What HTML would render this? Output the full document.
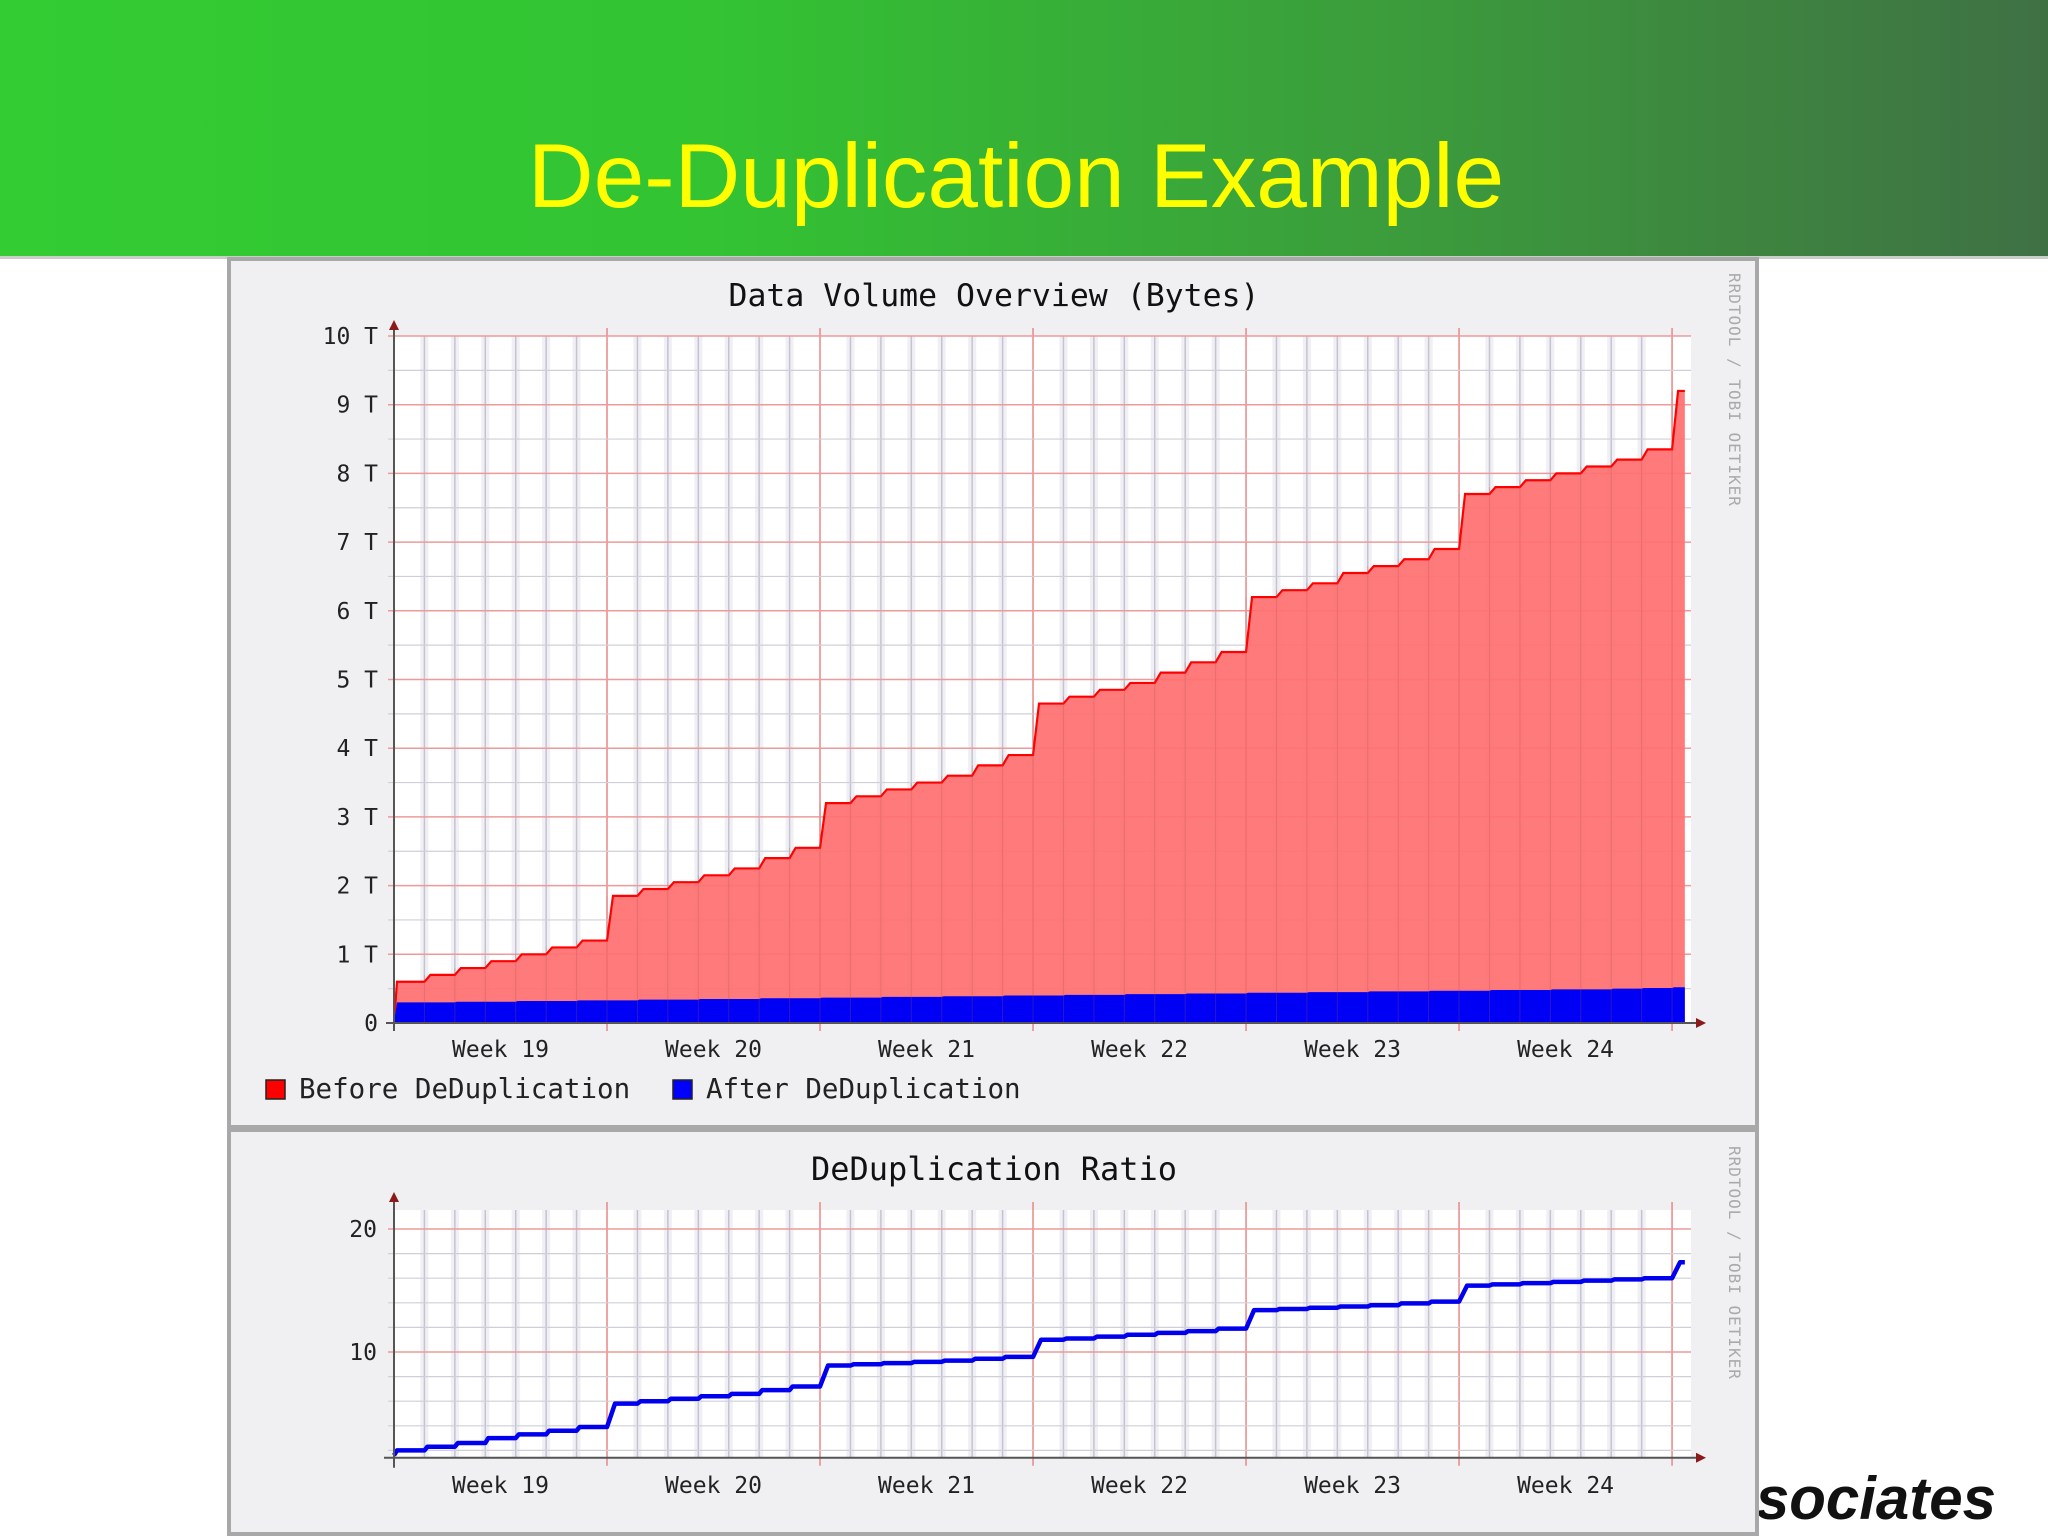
<!DOCTYPE html>
<html><head><meta charset="utf-8"><style>
html,body{margin:0;padding:0;width:2048px;height:1536px;overflow:hidden;background:#fff;font-family:"Liberation Sans",sans-serif}
svg{display:block}
</style></head><body>
<svg id="s" width="2048" height="1536" viewBox="0 0 2048 1536" xmlns="http://www.w3.org/2000/svg">
<defs>
<linearGradient id="hg" x1="0" x2="1" y1="0" y2="0">
<stop offset="0" stop-color="#33cc33"/><stop offset="0.35" stop-color="#33c333"/><stop offset="0.7" stop-color="#3c9a3c"/><stop offset="1" stop-color="#3f7044"/>
</linearGradient>
</defs>
<rect x="0" y="0" width="2048" height="257" fill="url(#hg)"/>
<rect x="0" y="256" width="2048" height="3" fill="#c8cfc8"/>
<text x="1016" y="207" text-anchor="middle" font-size="91" fill="#ffff00" font-family="Liberation Sans, sans-serif">De-Duplication Example</text>
<text x="1996" y="1519" text-anchor="end" font-size="60" font-weight="bold" font-style="italic" fill="#111" font-family="Liberation Sans, sans-serif">Associates</text>
<g id="p1">
<rect x="229" y="259" width="1528" height="868" fill="#f0eff2" stroke="#a8a8a8" stroke-width="4"/>
</g>
<g id="p2">
<rect x="229" y="1130" width="1528" height="404" fill="#f0eff2" stroke="#a8a8a8" stroke-width="4"/>
</g>
</svg>
<script>
// ---- data ----
const weekLabels = ["Week 19","Week 20","Week 21","Week 22","Week 23","Week 24"];
const volumeTicks = ["0","1 T","2 T","3 T","4 T","5 T","6 T","7 T","8 T","9 T","10 T"];
const ratioTicks = ["10","20"];
// daily values (TB), 7 per week, + final point
const beforeDedup = [0.6,0.7,0.8,0.9,1.0,1.1,1.2,
 1.85,1.95,2.05,2.15,2.25,2.4,2.55,
 3.2,3.3,3.4,3.5,3.6,3.75,3.9,
 4.65,4.75,4.85,4.95,5.1,5.25,5.4,
 6.2,6.3,6.4,6.55,6.65,6.75,6.9,
 7.7,7.8,7.9,8.0,8.1,8.2,8.35,
 9.2];
const afterDedup = [0.3,0.3,0.31,0.31,0.32,0.32,0.33,
 0.33,0.34,0.34,0.35,0.35,0.36,0.36,
 0.37,0.37,0.38,0.38,0.39,0.39,0.4,
 0.4,0.41,0.41,0.42,0.42,0.43,0.43,
 0.44,0.44,0.45,0.45,0.46,0.46,0.47,
 0.47,0.48,0.48,0.49,0.49,0.5,0.51,
 0.52];
const dedupRatio = [2.0,2.3,2.6,3.0,3.3,3.6,3.9,
 5.8,6.0,6.2,6.4,6.6,6.9,7.2,
 8.9,9.0,9.1,9.2,9.3,9.45,9.6,
 11.0,11.1,11.25,11.4,11.55,11.7,11.9,
 13.4,13.5,13.6,13.7,13.8,13.95,14.1,
 15.4,15.5,15.6,15.7,15.8,15.9,16.0,
 17.3];

const NS="http://www.w3.org/2000/svg";
const svg=document.getElementById('s');
function el(parent,tag,attrs){const e=document.createElementNS(NS,tag);for(const k in attrs)e.setAttribute(k,attrs[k]);parent.appendChild(e);return e;}
const X0=394, DAYW=30.43;
const xDay=d=>X0+d*DAYW;
const lastW=0.42;
const xEnd=xDay(42+lastW);
const gridRight=1691;
const MONO='DejaVu Sans Mono, Liberation Mono, monospace';

function vgrid(g,top,bottom){
  for(let d=1;d<=42;d++){
    const x=xDay(d);
    if(d%7===0) continue;
    const b=el(g,'rect',{x:x-4,y:top,width:8,height:bottom-top,fill:'#e4e4ee',opacity:0.6});
    
    
    const l=el(g,'line',{x1:x,x2:x,y1:top,y2:bottom,stroke:'#c4c4cc','stroke-width':1.5});
    
    
  }
  for(let w=1;w<=6;w++){
    const x=xDay(w*7);
    const l=el(g,'line',{x1:x,x2:x,y1:top-8,y2:bottom+8,stroke:'#e88888','stroke-width':1.5});
    
    
  }
}
function weekText(g,y){
  weekLabels.forEach((t,i)=>{
    const tx=el(g,'text',{x:xDay(i*7+3.5),y:y,'text-anchor':'middle','font-size':23,'font-family':MONO,fill:'#222'});
    tx.textContent=t;
    
    
  });
}
function stepPath(vals,yf,ramp){
  let d='M'+xDay(0)+','+yf(0)+' L'+(xDay(0)+3)+','+yf(vals[0]);
  for(let i=0;i<vals.length;i++){
    const xs=xDay(i)+(i===0?3:ramp), xe=(i===vals.length-1)?xEnd:xDay(i+1);
    if(i>0) d+=' L'+xs+','+yf(vals[i]);
    d+=' L'+xe+','+yf(vals[i]);
  }
  return d;
}
function vertText(g,x,y){
  const t=el(g,'text',{x:x,y:y,transform:`rotate(90 ${x} ${y})`,'font-size':16,fill:'#aaa','font-family':MONO,'letter-spacing':'1'});
  t.textContent='RRDTOOL / TOBI OETIKER';
  
  
}

// ---- Panel 1 ----
(function(){
  const g=document.getElementById('p1');
  const Y0=1023, TB=68.7, top=1023-10*TB;
  const y=v=>Y0-v*TB;
  el(g,'rect',{x:X0,y:top,width:gridRight-X0,height:Y0-top,fill:'#ffffff'});
  vgrid(g,top,Y0);
  for(let i=0;i<=20;i++){
    const v=i*0.5, yy=y(v), major=i%2===0;
    const l=el(g,'line',{x1:X0-6,x2:gridRight,y1:yy,y2:yy,stroke:major?'#ee9a9a':'#cfcfd8','stroke-width':major?1.5:1.2});
    
    
  }
  volumeTicks.forEach((t,i)=>{
    const tx=el(g,'text',{x:378,y:y(i)+8,'text-anchor':'end','font-size':23,'font-family':MONO,fill:'#222'});
    tx.textContent=t;
    
    
  });
  const rp=stepPath(beforeDedup,y,6);
  const area=el(g,'path',{d:rp+' L'+xEnd+','+Y0+' L'+X0+','+Y0+' Z',fill:'#ff7070',opacity:0.93});
  
  
  const line=el(g,'path',{d:rp,fill:'none',stroke:'#ff0000','stroke-width':2.2});
  
  
  const bp=stepPath(afterDedup,y,2);
  const barea=el(g,'path',{d:bp+' L'+xEnd+','+Y0+' L'+X0+','+Y0+' Z',fill:'#0000f5'});
  
  
  for(let d=1;d<=42;d++){const l=el(g,'line',{x1:xDay(d),x2:xDay(d),y1:y(beforeDedup[Math.min(d,42)]),y2:Y0,stroke:'#b05858','stroke-width':1,opacity:0.25});}
  const ax=el(g,'line',{x1:X0,x2:X0,y1:Y0+8,y2:top-6,stroke:'#555','stroke-width':2});
  const ay=el(g,'polygon',{points:`${X0-5},${top-6} ${X0+5},${top-6} ${X0},${top-16}`,fill:'#8b1a1a'});
  const xa=el(g,'line',{x1:X0-8,x2:1698,y1:Y0,y2:Y0,stroke:'#555','stroke-width':2});
  const xr=el(g,'polygon',{points:`1696,${Y0-5} 1696,${Y0+5} 1706,${Y0}`,fill:'#8b1a1a'});
  weekText(g,1057);
  const t=el(g,'text',{x:994,y:306,'text-anchor':'middle','font-size':31.5,'font-family':MONO,fill:'#111'});
  t.textContent='Data Volume Overview (Bytes)';
  const s1=el(g,'rect',{x:266,y:1080,width:19,height:19,fill:'#ff0000',stroke:'#222','stroke-width':1.5});
  const l1=el(g,'text',{x:299,y:1098,'font-size':27.5,'font-family':MONO,fill:'#222'});l1.textContent='Before DeDuplication';
  const s2=el(g,'rect',{x:673,y:1080,width:19,height:19,fill:'#0000ff',stroke:'#222','stroke-width':1.5});
  const l2=el(g,'text',{x:706,y:1098,'font-size':27.5,'font-family':MONO,fill:'#222'});l2.textContent='After DeDuplication';
  vertText(g,1729,273);
})();

// ---- Panel 2 ----
(function(){
  const g=document.getElementById('p2');
  const Z=1475, U=12.3, ymin=1.4, top=1210;
  const y=v=>Z-v*U;
  const Yb=y(ymin);
  el(g,'rect',{x:X0,y:top,width:gridRight-X0,height:Yb-top,fill:'#ffffff'});
  vgrid(g,top,Yb);
  for(let v=2;v<=21;v+=2){
    const yy=y(v), major=v%10===0;
    const l=el(g,'line',{x1:X0-6,x2:gridRight,y1:yy,y2:yy,stroke:major?'#ee9a9a':'#cfcfd8','stroke-width':major?1.5:1.2});
    
    
  }
  ratioTicks.forEach(t=>{
    const tx=el(g,'text',{x:377,y:y(+t)+8,'text-anchor':'end','font-size':23,'font-family':MONO,fill:'#222'});
    tx.textContent=t;
  });
  let d='M'+xDay(0)+','+y(1.6);
  dedupRatio.forEach((v,i)=>{
    const xs=xDay(i)+(i%7===0&&i>0?8:3), xe=(i===dedupRatio.length-1)?xEnd:xDay(i+1);
    d+=' L'+xs+','+y(v)+' L'+xe+','+y(v);
  });
  const ln=el(g,'path',{d:d,fill:'none',stroke:'#0000ee','stroke-width':4.5,'stroke-linejoin':'round'});
  
  const ax=el(g,'line',{x1:X0,x2:X0,y1:Yb+10,y2:top-8,stroke:'#555','stroke-width':2});
  const ay=el(g,'polygon',{points:`${X0-5},${top-8} ${X0+5},${top-8} ${X0},${top-18}`,fill:'#8b1a1a'});
  const xa=el(g,'line',{x1:X0-10,x2:1698,y1:Yb,y2:Yb,stroke:'#555','stroke-width':2});
  const xr=el(g,'polygon',{points:`1696,${Yb-5} 1696,${Yb+5} 1706,${Yb}`,fill:'#8b1a1a'});
  weekText(g,1493);
  const t=el(g,'text',{x:994,y:1180,'text-anchor':'middle','font-size':32,'font-family':MONO,fill:'#111'});
  t.textContent='DeDuplication Ratio';
  vertText(g,1729,1146);
})();
</script>
</body></html>
